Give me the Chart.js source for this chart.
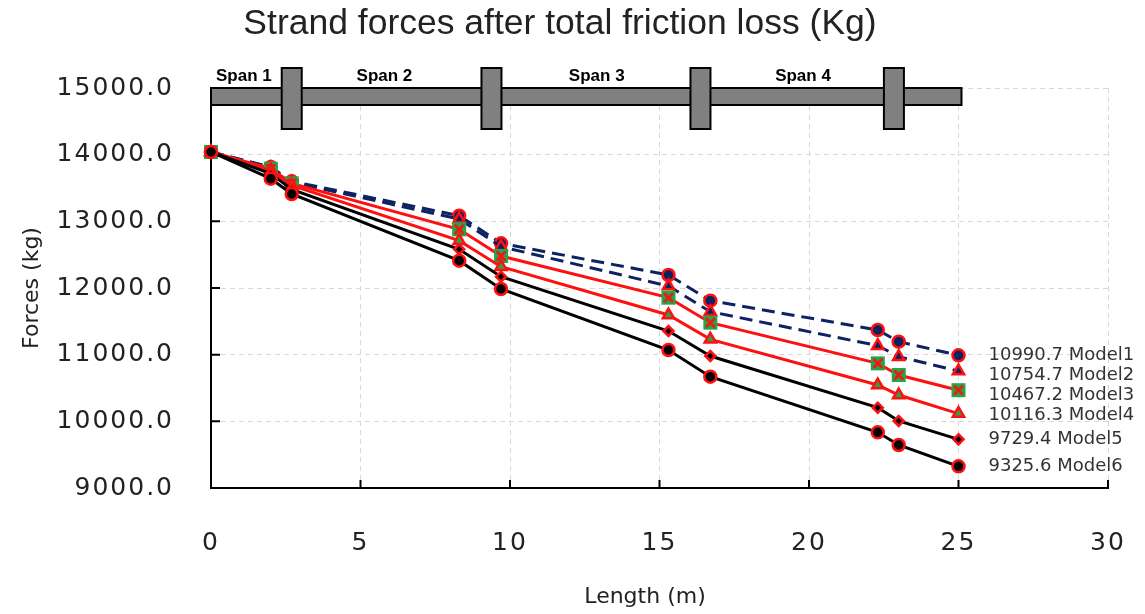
<!DOCTYPE html>
<html lang="en">
<head>
  <meta charset="UTF-8" />
  <title>Strand forces after total friction loss</title>
  <script src="https://cdn.jsdelivr.net/npm/chart.js"></script>
  <style>
    body { margin: 0; background: #fff; }
    #wrap { width: 1145px; height: 614px; }
  </style>
</head>
<body>
  <div id="wrap"><canvas id="forceChart"></canvas></div>

  <script>
    // distance along the tendon (m)
    const lengths = [0, 2.0, 2.7, 8.3, 9.7, 15.3, 16.7, 22.3, 23.0, 25.0];

    // strand force (kg) per model
    const model1 = [14040, 13815, 13600, 13085, 12670, 12195, 11810, 11370, 11195, 10990.7];
    const model2 = [14040, 13805, 13585, 13035, 12620, 12030, 11645, 11135, 10970, 10754.7];
    const model3 = [14040, 13790, 13570, 12880, 12480, 11855, 11480, 10870, 10695, 10467.2];
    const model4 = [14040, 13765, 13540, 12710, 12320, 11595, 11230, 10545, 10395, 10116.3];
    const model5 = [14040, 13715, 13480, 12580, 12170, 11355, 10980, 10205, 10005, 9729.4];
    const model6 = [14040, 13640, 13410, 12410, 11985, 11070, 10670, 9835, 9645, 9325.6];
    const modelNames = ['Model1', 'Model2', 'Model3', 'Model4', 'Model5', 'Model6'];

    const xTicks = [0, 5, 10, 15, 20, 25, 30];
    const yTicks = [9000, 10000, 11000, 12000, 13000, 14000, 15000];

    // span sketch along the top (m)
    const spanLabels = ['Span 1', 'Span 2', 'Span 3', 'Span 4'];
    const spanLabelAt = [1.1, 5.8, 12.9, 19.8];
    const piers = [2.7, 9.38, 16.37, 22.84];
    const deckEnd = 25.1;

    const NAVY = '#0c2262';
    const RED = '#ff1010';
    const GREEN = '#20a84a';

    // green square with a red X
    const sqX = document.createElement('canvas');
    sqX.width = 16; sqX.height = 16;
    (() => {
      const c = sqX.getContext('2d');
      c.fillStyle = GREEN;
      c.fillRect(1, 1, 14, 14);
      c.strokeStyle = RED;
      c.lineWidth = 2.5;
      c.beginPath();
      c.moveTo(3.5, 3.5); c.lineTo(12.5, 12.5);
      c.moveTo(12.5, 3.5); c.lineTo(3.5, 12.5);
      c.stroke();
    })();

    const pts = arr => arr.map((v, i) => ({ x: lengths[i], y: v }));

    const series = [
      { label: modelNames[0], data: pts(model1), borderColor: NAVY, borderDash: [13, 7], pointStyle: 'circle', pointBackgroundColor: NAVY, pointRadius: 6 },
      { label: modelNames[1], data: pts(model2), borderColor: NAVY, borderDash: [13, 7], pointStyle: 'triangle', pointBackgroundColor: NAVY, pointRadius: 6.5 },
      { label: modelNames[2], data: pts(model3), borderColor: RED, pointStyle: sqX, pointBackgroundColor: GREEN, pointRadius: 7 },
      { label: modelNames[3], data: pts(model4), borderColor: RED, pointStyle: 'triangle', pointBackgroundColor: GREEN, pointRadius: 6.5 },
      { label: modelNames[4], data: pts(model5), borderColor: '#000', pointStyle: 'rectRot', pointBackgroundColor: '#000', pointRadius: 5 },
      { label: modelNames[5], data: pts(model6), borderColor: '#000', pointStyle: 'circle', pointBackgroundColor: '#000', pointRadius: 6 }
    ].map((d, i) => Object.assign({
      borderWidth: 3,
      pointBorderColor: RED,
      pointBorderWidth: 2.5,
      pointHoverRadius: 6,
      tension: 0,
      fill: false,
      clip: false,
      order: 5 - i
    }, d));

    const decor = {
      id: 'decor',
      beforeDatasetsDraw(chart) {
        const { ctx, chartArea: a, scales: { x, y } } = chart;
        ctx.save();
        ctx.strokeStyle = '#000';
        ctx.lineWidth = 2;
        ctx.beginPath();
        xTicks.forEach(v => {
          const px = x.getPixelForValue(v);
          ctx.moveTo(px, a.bottom); ctx.lineTo(px, a.bottom - 8);
        });
        yTicks.forEach(v => {
          const py = y.getPixelForValue(v);
          ctx.moveTo(a.left, py); ctx.lineTo(a.left + 9, py);
        });
        ctx.stroke();
        ctx.restore();
      },
      afterDatasetsDraw(chart) {
        const { ctx, chartArea: a, scales: { x, y } } = chart;
        ctx.save();
        // deck
        ctx.fillStyle = '#808080';
        ctx.strokeStyle = '#000';
        ctx.lineWidth = 2;
        const x0 = x.getPixelForValue(0), x1 = x.getPixelForValue(deckEnd);
        ctx.fillRect(x0, a.top, x1 - x0, 17);
        ctx.strokeRect(x0, a.top, x1 - x0, 17);
        // piers
        piers.forEach(p => {
          const px = x.getPixelForValue(p);
          ctx.fillRect(px - 10, a.top - 20, 20, 61);
          ctx.strokeRect(px - 10, a.top - 20, 20, 61);
        });
        // span names
        ctx.fillStyle = '#000';
        ctx.font = 'bold 17px "Liberation Sans", Arial, sans-serif';
        ctx.textAlign = 'center';
        ctx.textBaseline = 'middle';
        spanLabels.forEach((t, i) => ctx.fillText(t, x.getPixelForValue(spanLabelAt[i]), a.top - 12));

        // end values
        const ends = [model1, model2, model3, model4, model5, model6].map(m => m[m.length - 1]);
        ctx.font = '18px "DejaVu Sans", sans-serif';
        ctx.fillStyle = '#333';
        ctx.textAlign = 'left';
        let prev = -Infinity;
        ends.forEach((v, i) => {
          let py = Math.max(y.getPixelForValue(v), prev + 20);
          prev = py;
          ctx.fillText(v.toFixed(1) + ' ' + modelNames[i], x.getPixelForValue(25) + 30, py);
        });

        // x axis title (sits a little left of centre in the original)
        ctx.font = '22px "DejaVu Sans", sans-serif';
        ctx.fillStyle = '#222';
        ctx.textAlign = 'center';
        ctx.fillText('Length (m)', 645, 597);

        // title
        ctx.font = '35.5px "Liberation Sans", Arial, sans-serif';
        ctx.fillStyle = '#222';
        ctx.textAlign = 'center';
        ctx.fillText('Strand forces after total friction loss (Kg)', 560, 24);
        ctx.restore();
        // tick labels are drawn after this (ticks.z = 1), a bit spaced out
        ctx.letterSpacing = '2px';
      },
      afterDraw(chart) {
        chart.ctx.letterSpacing = '0px';
      }
    };

    new Chart(document.getElementById('forceChart'), {
      type: 'line',
      data: { datasets: series },
      options: {
        responsive: true,
        maintainAspectRatio: false,
        animation: false,
        layout: { padding: { top: 88, right: 37, left: 0, bottom: 0 } },
        plugins: { legend: { display: false }, tooltip: { enabled: false } },
        scales: {
          x: {
            type: 'linear',
            min: 0, max: 30,
            afterFit: s => { s.height = 126; s.paddingLeft = 0; s.paddingRight = 0; },
            afterBuildTicks: s => { s.ticks = xTicks.map(v => ({ value: v })); },
            ticks: { z: 1, color: '#222', padding: 40, font: { family: 'DejaVu Sans', size: 25 }, callback: v => v },
            grid: { color: '#d8d8d8', lineWidth: 1, drawTicks: false },
            border: { color: '#000', width: 2, dash: [5, 4] },
            title: { display: false }
          },
          y: {
            type: 'linear',
            min: 9000, max: 15000,
            afterFit: s => { s.width = 211; },
            afterBuildTicks: s => { s.ticks = yTicks.map(v => ({ value: v })); },
            ticks: { z: 1, color: '#222', padding: 37, font: { family: 'DejaVu Sans', size: 25 }, callback: v => Number(v).toFixed(1) },
            grid: { color: '#d8d8d8', lineWidth: 1, drawTicks: false },
            border: { color: '#000', width: 2, dash: [5, 4] },
            title: { display: true, text: 'Forces (kg)', color: '#222', font: { family: 'DejaVu Sans', size: 22 }, padding: { top: 19, bottom: 0 } }
          }
        }
      },
      plugins: [decor]
    });
  </script>
</body>
</html>
